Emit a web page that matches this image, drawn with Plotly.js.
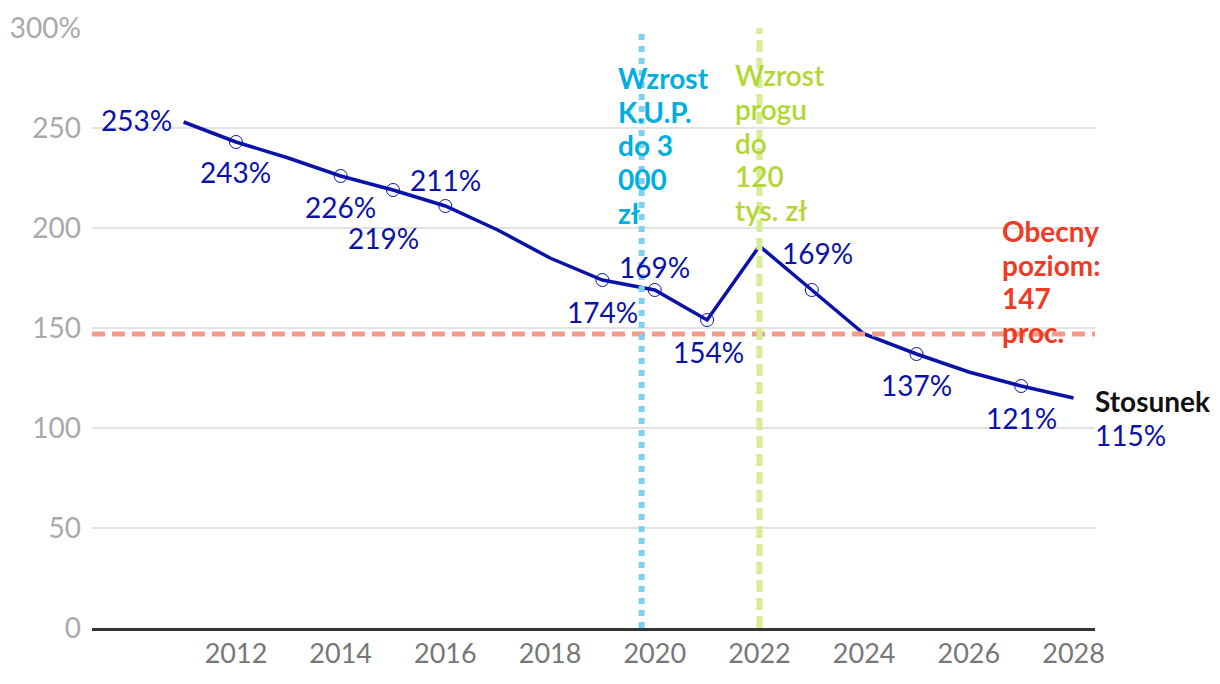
<!DOCTYPE html>
<html>
<head>
<meta charset="utf-8">
<script src="https://cdn.plot.ly/plotly-3.0.1.min.js"></script>
<style>
html,body{margin:0;padding:0;background:#fff;}
#chart{width:1220px;height:684px;}
</style>
</head>
<body>
<div id="chart"></div>
<script>
// Data
const years = [2011,2012,2013,2014,2015,2016,2017,2018,2019,2020,2021,2022,2023,2024,2025,2026,2027,2028];
const ratio = [253,243,235,226,219,211,199,185,174,169,154,191,169,147,137,128,121,115];
const markerYears = [2012,2014,2015,2016,2019,2020,2021,2023,2025,2027];
const labelYears = [2011,2012,2014,2015,2016,2019,2020,2021,2023,2025,2027];
const currentLevel = 147;
const kupYear = 2019.75;
const thresholdYear = 2022;
const yTickVals = [0,50,100,150,200,250,300];
const yTickText = ['0','50','100','150','200','250','300%'];
const xTickVals = [2012,2014,2016,2018,2020,2022,2024,2026,2028];
const seriesName = 'Stosunek';
const kupLines = ['Wzrost','K.U.P.','do 3','000','zł'];
const progLines = ['Wzrost','progu','do','120','tys. zł'];
const levelLines = ['Obecny','poziom:','147','proc.'];

const BLUE = '#0a12a8';
const FONT = 'Lato, "Open Sans", sans-serif';
const FS = 28;
const LINE_H = 33.6;
const valOf = y => ratio[years.indexOf(y)];

// label placement (pixel shifts relative to the point)
const labelPos = {
  2011:{xa:'right', xs:-10, ys:2},
  2012:{xa:'center', xs:0, ys:-30},
  2014:{xa:'center', xs:0, ys:-31},
  2015:{xa:'center', xs:-10, ys:-48},
  2016:{xa:'center', xs:0, ys:26},
  2019:{xa:'center', xs:0, ys:-32},
  2020:{xa:'center', xs:0, ys:23},
  2021:{xa:'center', xs:1, ys:-32},
  2023:{xa:'center', xs:6, ys:37},
  2025:{xa:'center', xs:0, ys:-31},
  2027:{xa:'center', xs:0, ys:-32}
};

const traces = [
  {
    x: years, y: ratio, type:'scatter', mode:'lines',
    line:{color:BLUE, width:3.5}, hoverinfo:'skip', showlegend:false
  },
  {
    x: markerYears, y: markerYears.map(valOf), type:'scatter', mode:'markers',
    marker:{size:13, color:'rgba(0,0,0,0)', line:{color:BLUE, width:1}},
    hoverinfo:'skip', showlegend:false
  }
];

const annotations = labelYears.map(y => ({
  x:y, y:valOf(y), xref:'x', yref:'y', text: valOf(y)+'%',
  showarrow:false, xanchor:labelPos[y].xa, yanchor:'middle',
  xshift:labelPos[y].xs, yshift:labelPos[y].ys,
  font:{family:FONT, size:FS, color:BLUE}
}));

const lastYear = years[years.length-1];
annotations.push({
  x:lastYear, y:valOf(lastYear), xref:'x', yref:'y', text:seriesName,
  showarrow:false, xanchor:'left', yanchor:'middle', xshift:19, yshift:-3,
  font:{family:FONT, size:FS, color:'#111111', weight:'bold'}
});
annotations.push({
  x:lastYear, y:valOf(lastYear), xref:'x', yref:'y', text:valOf(lastYear)+'%',
  showarrow:false, xanchor:'left', yanchor:'middle', xshift:19, yshift:-3-LINE_H,
  font:{family:FONT, size:FS, color:BLUE}
});

function blockLines(lines, x, y, xshift, font){
  lines.forEach((t,i) => annotations.push({
    x:x, y:y, xref:'x', yref:'y', text:t, showarrow:false,
    xanchor:'left', yanchor:'middle', xshift:xshift, yshift:-i*LINE_H, font:font
  }));
}
blockLines(kupLines, kupYear, 274.9, -26, {family:FONT, size:FS, color:'#00aedf', weight:'bold'});
blockLines(progLines, thresholdYear, 276.3, -26, {family:FONT, size:FS, color:'#b2d632', weight:600});
blockLines(levelLines, 2026.59, 198.4, 0, {family:FONT, size:FS, color:'#f03a24', weight:'bold'});

const shapes = [
  {type:'line', xref:'paper', yref:'y', x0:0, x1:1, y0:currentLevel, y1:currentLevel,
   line:{color:'#f59b8c', width:5, dash:'13px,7px'}, layer:'above'},
  {type:'line', xref:'x', yref:'y', x0:kupYear, x1:kupYear, y0:0, y1:300,
   line:{color:'#7dd2ee', width:6, dash:'6px,6px'}, layer:'above'},
  {type:'line', xref:'x', yref:'y', x0:thresholdYear, x1:thresholdYear, y0:0, y1:300,
   line:{color:'#d8ec98', width:6, dash:'12px,6px'}, layer:'above'}
];

const layout = {
  width:1220, height:684,
  margin:{l:92, r:125, t:28, b:56},
  paper_bgcolor:'#ffffff', plot_bgcolor:'#ffffff',
  font:{family:FONT},
  showlegend:false,
  xaxis:{
    range:[2009.25, 2028.41], tickvals:xTickVals, ticktext:xTickVals.map(String),
    showgrid:false, zeroline:false, showline:true, linecolor:'#333333', linewidth:2.5,
    ticks:'', tickfont:{family:FONT, size:27, color:'#777777'}, fixedrange:true
  },
  yaxis:{
    range:[0,300], tickvals:yTickVals, ticktext:yTickText,
    showgrid:true, gridcolor:'#e3e3e3', gridwidth:1.5, zeroline:false, showline:false,
    ticks:'', ticklabelstandoff:10, tickfont:{family:FONT, size:FS, color:'#aaaaaa'}, fixedrange:true
  },
  annotations: annotations,
  shapes: shapes
};

Plotly.newPlot('chart', traces, layout, {displayModeBar:false, staticPlot:true});
</script>
</body>
</html>
